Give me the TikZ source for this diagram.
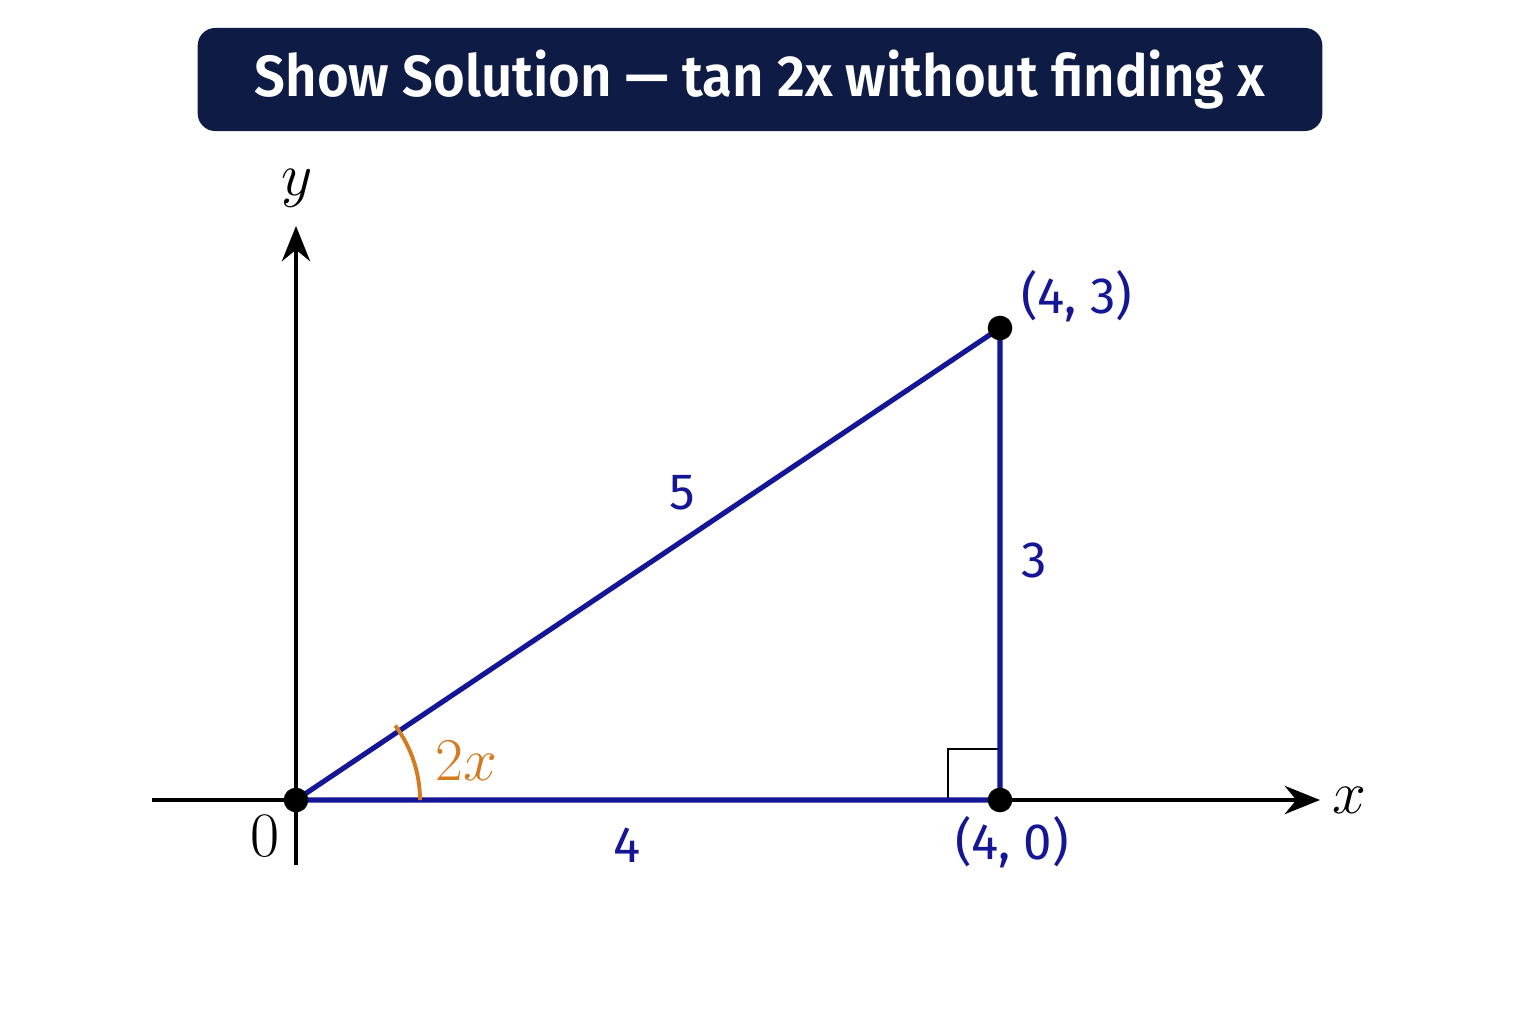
\documentclass[tikz,border=0pt]{standalone}
\usepackage{fontspec}
\setsansfont{Fira Sans}
\newfontfamily\titlefont{Fira Sans SemiBold}
\newfontfamily\lblfont{Fira Sans}
\usetikzlibrary{arrows.meta}
\definecolor{navy}{RGB}{13,27,69}
\definecolor{triblue}{RGB}{20,22,150}
\definecolor{angorange}{RGB}{214,122,32}
\tikzset{
  axis/.style={line width=1.3pt, black, -{Stealth[length=10pt,width=8pt]}},
  side/.style={line width=1.45pt, triblue},
  dot/.style={circle, fill=black, inner sep=0pt, minimum size=7pt},
  lbl/.style={text=triblue, font=\lblfont\fontsize{14.5}{16}\selectfont},
  mathlbl/.style={font=\fontsize{18}{20}\selectfont}
}
\begin{document}
\begin{tikzpicture}[x=0.01cm,y=-0.01cm]
\useasboundingbox[fill=white] (0,0) rectangle (1536,1024);
% title
\node[fill=navy, rounded corners=5pt, minimum width=11.24cm, minimum height=1.03cm, inner sep=0pt,
  text=white, font=\titlefont\fontsize{16.5}{20}\selectfont] (title) at (760,79.5) {\scalebox{0.94}[1]{Show Solution — tan 2x without finding x}};
% coordinates
\coordinate (O) at (296,800);
\coordinate (A) at (1000,800);
\coordinate (B) at (1000,328);
\coordinate (xs) at (152,800);
\coordinate (xe) at (1320,800);
\coordinate (ys) at (296,865);
\coordinate (ye) at (296,226);
% axes
\draw[axis] (xs) -- (xe);
\draw[axis] (ys) -- (ye);
\node[mathlbl] (xl) at (1349,800) {$x$};
\node[mathlbl] (yl) at (297,188) {$y$};
% right angle
\draw[line width=0.7pt, black] (948,800) -- (948,749) -- (1000,749);
% triangle
\draw[side] (O) -- (A) -- (B) -- cycle;
% angle arc
\draw[line width=1.1pt, angorange] (420,800) arc[start angle=0, end angle=-36.87, radius=124];
\node[text=angorange, font=\fontsize{19}{21}\selectfont] (ang) at (466,761) {$2x$};
% dots
\node[dot] (dO) at (O) {};
\node[dot] (dA) at (A) {};
\node[dot] (dB) at (B) {};
% labels
\node[mathlbl] (zero) at (265,836) {0};
\node[lbl] (l5) at (682,493) {5};
\node[lbl] (l3) at (1034,560) {3};
\node[lbl] (l4) at (627,845) {4};
\node[lbl] (p43) at (1077,296) {(4, 3)};
\node[lbl] (p40) at (1012,842) {(4, 0)};
\end{tikzpicture}
\end{document}
